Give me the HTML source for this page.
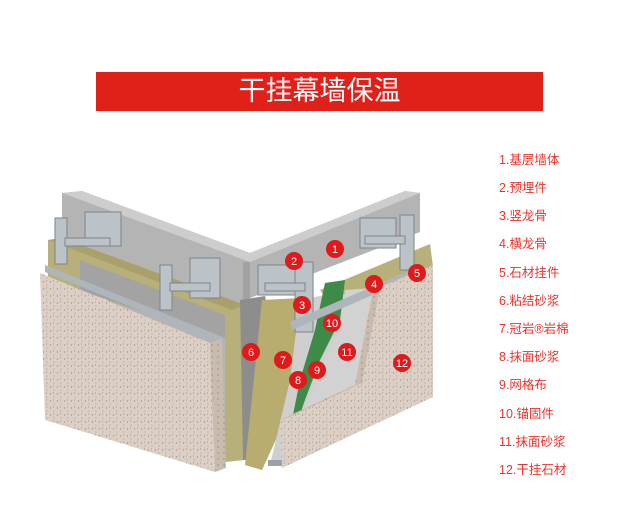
<!DOCTYPE html>
<html><head><meta charset="utf-8">
<style>
body{margin:0;background:#fff;width:634px;height:510px;overflow:hidden;position:relative;font-family:"Liberation Sans","Noto Sans CJK SC",sans-serif}
.bar{position:absolute;left:96px;top:72px;width:447px;height:39px;background:#e2201a;color:#fff;font-size:27px;line-height:39px;text-align:center}
.lg{position:absolute;left:499px;font-size:12.5px;color:#e8352d;line-height:14px}
svg{position:absolute;left:0;top:0}
</style></head><body>
<div class="bar">干挂幕墙保温</div>
<div class="lg" style="top:153px">1.基层墙体</div>
<div class="lg" style="top:181px">2.预埋件</div>
<div class="lg" style="top:209px">3.竖龙骨</div>
<div class="lg" style="top:237px">4.横龙骨</div>
<div class="lg" style="top:266px">5.石材挂件</div>
<div class="lg" style="top:294px">6.粘结砂浆</div>
<div class="lg" style="top:322px">7.冠岩®岩棉</div>
<div class="lg" style="top:350px">8.抹面砂浆</div>
<div class="lg" style="top:378px">9.网格布</div>
<div class="lg" style="top:407px">10.锚固件</div>
<div class="lg" style="top:435px">11.抹面砂浆</div>
<div class="lg" style="top:463px">12.干挂石材</div>
<svg width="634" height="510" viewBox="0 0 634 510">
<defs>
<pattern id="sp" width="7" height="7" patternUnits="userSpaceOnUse">
<rect width="7" height="7" fill="#dccfc5"/>
<circle cx="1.5" cy="2" r="0.7" fill="#a89585"/><circle cx="5" cy="5" r="0.6" fill="#b9a291"/><circle cx="4.5" cy="1" r="0.5" fill="#8f8276"/>
</pattern>
<pattern id="sp2" width="6" height="6" patternUnits="userSpaceOnUse">
<rect width="6" height="6" fill="#c9bbae"/><circle cx="2" cy="3" r="0.7" fill="#9d8b7c"/>
</pattern>
</defs>
<polygon points="62,193 82,191 250,253 405,191 420,193 420,232 245,300 245,455 225,460 62,240" fill="#b4b4b4"/>
<polygon points="62,193 82,191 250,253 405,191 420,193 250,262" fill="#cdcdcd"/>
<polygon points="243,262 250,262 250,455 243,455" fill="#a2a2a2"/>
<polygon points="48,240 62,238 245,305 245,460 225,462 225,340 48,280" fill="#b8b07a"/>
<polygon points="48,240 62,238 245,305 232,310" fill="#a9a06a"/>
<polygon points="80,260 225,315 225,340 80,290" fill="#a3a3a3"/>
<polygon points="320,290 430,244 433,266 330,305" fill="#b8b07a"/>
<polygon points="240,300 265,296 270,320 258,460 243,460" fill="#8d8d8d"/>
<polygon points="262,300 300,298 310,330 295,360 285,420 262,470 245,465" fill="#b8ad6f"/>
<polygon points="300,300 340,292 352,300 345,340 320,400 290,430 280,465 270,465 290,380" fill="#cfcfcf"/>
<polygon points="325,283 345,280 340,320 320,360 305,400 298,420 290,430 300,380 315,330" fill="#3e8a48"/>
<polygon points="345,290 375,288 360,393 300,420 320,370 340,330" fill="#d2d2d2"/>
<g fill="#bcc3c8" stroke="#7d858c" stroke-width="1">
<rect x="85" y="212" width="36" height="34"/><rect x="55" y="218" width="12" height="46"/><rect x="65" y="238" width="45" height="8"/>
<rect x="190" y="258" width="30" height="40"/><rect x="160" y="265" width="12" height="45"/><rect x="170" y="283" width="40" height="8"/>
<rect x="258" y="265" width="40" height="30"/><rect x="295" y="262" width="18" height="70"/><rect x="265" y="283" width="40" height="8"/>
<rect x="360" y="218" width="36" height="30"/><rect x="400" y="215" width="14" height="55"/><rect x="365" y="236" width="40" height="8"/>
</g>
<polygon points="45,265 225,338 225,345 45,272" fill="#aeb5bb"/>
<polygon points="290,322 418,267 430,270 292,330" fill="#aeb5bb"/>
<polygon points="40,273 210,343 215,472 45,420" fill="url(#sp)"/>
<polygon points="210,343 222,338 226,468 215,472" fill="url(#sp2)"/>
<polygon points="373,290 433,265 433,397 282,468 280,420 355,385" fill="url(#sp)"/>
<polygon points="373,290 380,287 362,383 355,385" fill="url(#sp2)"/>
<polygon points="280,420 355,385 362,383 287,418" fill="url(#sp2)"/>
<rect x="268" y="460" width="14" height="6" fill="#9aa1a8"/>
<g font-family="Liberation Sans,sans-serif" font-size="11" fill="#fff" text-anchor="middle">
<g fill="#e0191b"><circle cx="335" cy="249" r="9"/><circle cx="294" cy="261" r="9"/><circle cx="302" cy="305" r="9"/><circle cx="374" cy="284" r="9"/><circle cx="417" cy="273" r="9"/><circle cx="251" cy="352" r="9"/><circle cx="283" cy="360" r="9"/><circle cx="298" cy="380" r="9"/><circle cx="317" cy="370" r="9"/><circle cx="332" cy="323" r="9"/><circle cx="347" cy="352" r="9"/><circle cx="402" cy="363" r="9"/></g>
<text x="335" y="253">1</text><text x="294" y="265">2</text><text x="302" y="309">3</text><text x="374" y="288">4</text><text x="417" y="277">5</text><text x="251" y="356">6</text><text x="283" y="364">7</text><text x="298" y="384">8</text><text x="317" y="374">9</text><text x="332" y="327">10</text><text x="347" y="356">11</text><text x="402" y="367">12</text>
</g>
</svg>
</body></html>
